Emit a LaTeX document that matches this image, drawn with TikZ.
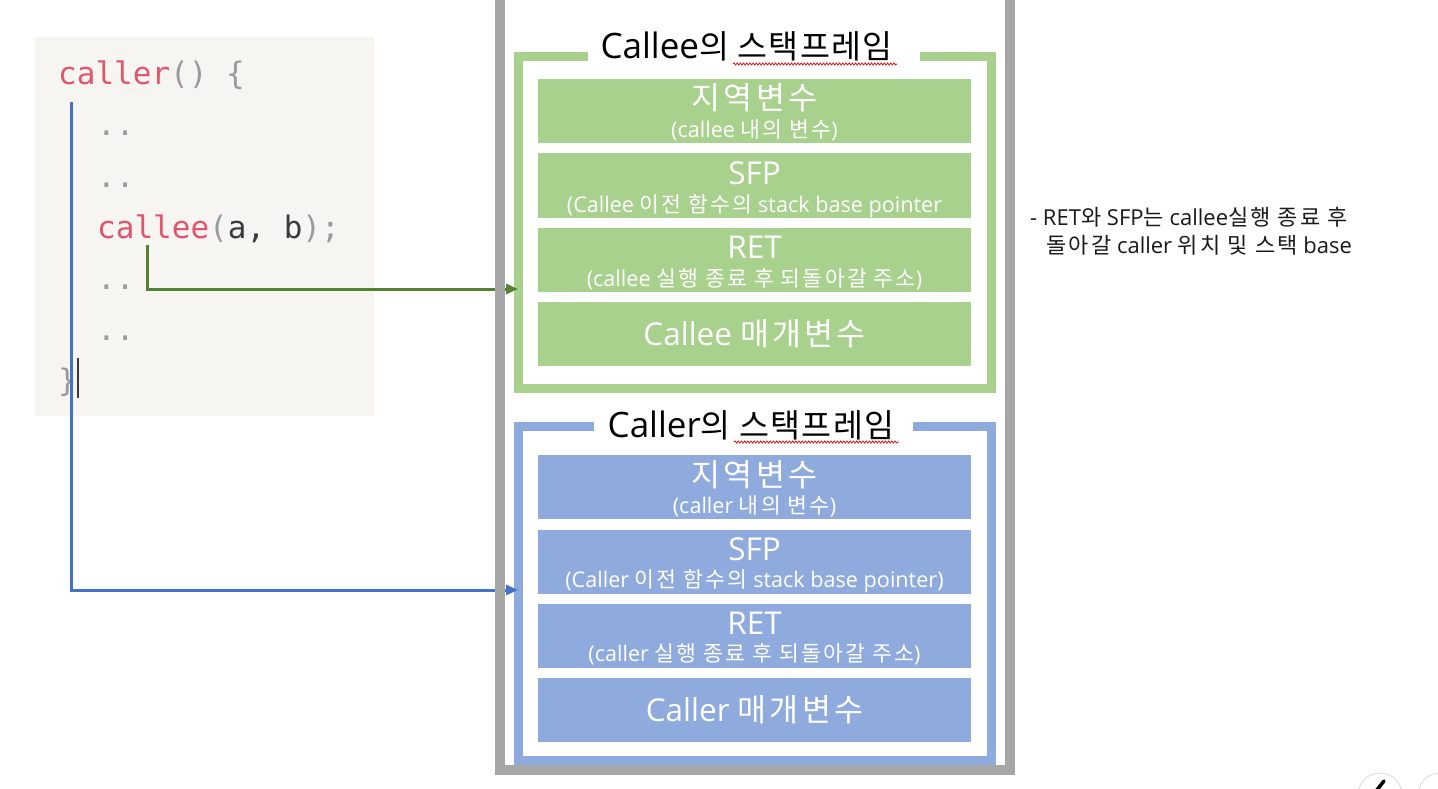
\documentclass[tikz,border=0pt]{standalone}
\usepackage{fontspec}
\setmainfont{Open Sans}
\setmonofont{DejaVu Sans Mono}
\newfontfamily\hgfontM[LetterSpace=10]{Noto Sans CJK KR}
\newfontfamily\hgfontT[Scale=0.93,LetterSpace=4]{Noto Sans CJK KR}
\newcommand{\hgM}[1]{{\hgfontM #1}}
\newcommand{\hgT}[1]{{\hgfontT #1}}
\usetikzlibrary{arrows.meta,decorations.pathmorphing}
\definecolor{gfill}{HTML}{A9D18E}
\definecolor{bfill}{HTML}{8FAADC}
\definecolor{outergray}{HTML}{A6A6A6}
\definecolor{garrow}{HTML}{548235}
\definecolor{barrow}{HTML}{4472C4}
\definecolor{codebg}{HTML}{F6F5F2}
\definecolor{codepink}{HTML}{E0566F}
\definecolor{codegray}{HTML}{9A9A9A}
\definecolor{codedark}{HTML}{3A3A3A}
\definecolor{notetext}{HTML}{1A1A1A}
\newcommand{\myfs}[1]{\fontsize{#1}{#1}\selectfont}
\tikzset{
  gbox/.style={fill=gfill, draw=none, minimum width=433, minimum height=64, inner sep=0},
  bbox/.style={fill=bfill, draw=none, minimum width=433, minimum height=64, inner sep=0},
  mainlbl/.style={anchor=base, inner sep=0, text=white, font=\myfs{31.5}},
  sublbl/.style={anchor=base, inner sep=0, text=white, font=\myfs{21.6}},
  titlelbl/.style={anchor=base, inner sep=0, text=black, font=\myfs{35}},
  codeline/.style={anchor=base west, inner sep=0, font=\ttfamily\myfs{31}},
  gframestyle/.style={draw=gfill, line width=9},
  bframestyle/.style={draw=bfill, line width=9},
  garrowstyle/.style={draw=garrow, line width=3, -{Triangle[length=12,width=10]}},
  barrowstyle/.style={draw=barrow, line width=3, -{Triangle[length=12,width=10]}},
  squiggle/.style={draw=red!85!black, line width=0.7, decorate, decoration={snake, amplitude=1.1, segment length=3.2}},
  notelbl/.style={anchor=base west, inner sep=0, text=notetext, font=\myfs{22}},
}
\begin{document}
\begin{tikzpicture}[x=1pt,y=-1pt]
\useasboundingbox[fill=white] (0,0) rectangle (1438,789);

% code block
\node[fill=codebg, minimum width=339, minimum height=379, inner sep=0, anchor=north west] (code) at (35,37) {};
\node[codeline] (c1) at (58,85) {\textcolor{codepink}{caller}\textcolor{codegray}{() \{}};
\node[codeline, text=codegray] (c2) at (97,136) {..};
\node[codeline, text=codegray] (c3) at (97,187) {..};
\node[codeline] (c4) at (97,238) {\textcolor{codepink}{callee}\textcolor{codegray}{(}\textcolor{codedark}{a, b}\textcolor{codegray}{);}};
\node[codeline, text=codegray] (c5) at (97,289) {..};
\node[codeline, text=codegray] (c6) at (97,340) {..};
\node[codeline, text=codegray] (c7) at (58,391) {\}};
\draw[line width=2, codedark] (78,358) -- (78,398);

% callee frame
\draw[gframestyle] (588,57) -- (518.5,57) -- (518.5,388) -- (991.5,388) -- (991.5,57) -- (920,57);
\node[titlelbl] (gtitle) at (746.5,59) {Callee\hgT{의 스택프레임}};
\draw[squiggle] (733,64) -- (897,64);

\node[gbox] (g1) at (754.5,111.5) {};
\node[gbox] (g2) at (754.5,185.5) {};
\node[gbox] (g3) at (754.5,260) {};
\node[gbox] (g4) at (754.5,333.5) {};
\node[mainlbl] (g1a) at (754.5,110) {\hgM{지역변수}};
\node[sublbl] (g1b) at (754.5,138) {(callee \hgM{내의 변수})};
\node[mainlbl] (g2a) at (754.5,184) {SFP};
\node[sublbl] (g2b) at (754.5,212) {(Callee \hgM{이전 함수의} stack base pointer};
\node[mainlbl] (g3a) at (754.5,258) {RET};
\node[sublbl] (g3b) at (754.5,286) {(callee \hgM{실행 종료 후 되돌아갈 주소})};
\node[mainlbl] (g4a) at (754.5,345) {Callee \hgM{매개변수}};

% caller frame
\draw[bframestyle] (594,426) -- (518.5,426) -- (518.5,760) -- (991.5,760) -- (991.5,426) -- (913,426);
\node[titlelbl] (btitle) at (751,437) {Caller\hgT{의 스택프레임}};
\draw[squiggle] (734,442) -- (899,442);

\node[bbox] (b1) at (754.5,487) {};
\node[bbox] (b2) at (754.5,561.5) {};
\node[bbox] (b3) at (754.5,635.5) {};
\node[bbox] (b4) at (754.5,710) {};
\node[mainlbl] (b1a) at (754.5,486) {\hgM{지역변수}};
\node[sublbl] (b1b) at (754.5,513) {(caller \hgM{내의 변수})};
\node[mainlbl] (b2a) at (754.5,560) {SFP};
\node[sublbl] (b2b) at (754.5,587) {(Caller \hgM{이전 함수의} stack base pointer)};
\node[mainlbl] (b3a) at (754.5,634) {RET};
\node[sublbl] (b3b) at (754.5,661) {(caller \hgM{실행 종료 후 되돌아갈 주소})};
\node[mainlbl] (b4a) at (754.5,721) {Caller \hgM{매개변수}};

% connectors
\coordinate (bs) at (71,102);
\coordinate (bt) at (518,590);
\coordinate (gs) at (147,245);
\coordinate (gt) at (518,289);
\draw[barrowstyle] (bs) |- (bt);
\draw[garrowstyle] (gs) |- (gt);

% outer stack border
\draw[draw=outergray, line width=10] (500,-10) -- (500,770) -- (1010,770) -- (1010,-10);

% note
\node[notelbl] (n1) at (1030,225) {- RET\hgM{와} SFP\hgM{는} callee\hgM{실행 종료 후}};
\node[notelbl] (n2) at (1046,253) {\hgM{돌아갈} caller \hgM{위치 및 스택} base};

% partial ui buttons
\draw[black!12, line width=1] (1380,795) circle (22);
\draw[black!12, line width=1] (1440,795) circle (22);
\draw[black, line width=3.5, line cap=round] (1384,781) -- (1376,791);
\end{tikzpicture}
\end{document}
